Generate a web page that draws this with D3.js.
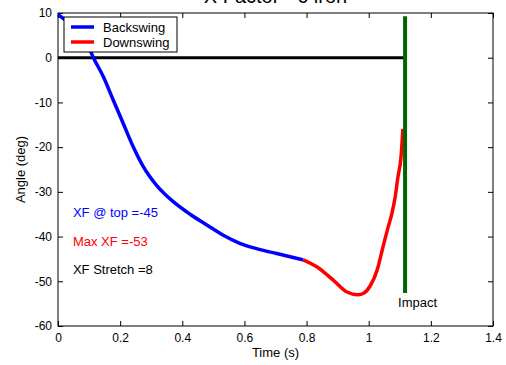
<!DOCTYPE html>
<meta charset="utf-8">
<style>

html, body {
  margin: 0;
  padding: 0;
  width: 506px;
  height: 365px;
  background: #fff;
  overflow: hidden;
}

svg {
  font-family: "Liberation Sans", Arial, Helvetica, sans-serif;
}

.tick line {
  stroke: #000;
}

.tick text {
  font-size: 12px;
  fill: #000;
}

</style>
<svg class="chart"></svg>
<script src="https://d3js.org/d3.v7.min.js"></script>
<script>

var width = 506;
var height = 365;
var margin = {left: 58, right: 13, top: 13, bottom: 39};

var backTime  = [0, 0.02, 0.05, 0.08, 0.103, 0.114, 0.146, 0.178, 0.210, 0.242, 0.275, 0.318, 0.371, 0.425, 0.479, 0.532, 0.585, 0.639, 0.704, 0.789];
var backAngle = [9.6, 8.6, 6.5, 3.8, 1.7, 0, -4.25, -9.5, -14.7, -19.9, -24.4, -28.6, -32.2, -35.0, -37.4, -39.7, -41.5, -42.7, -43.8, -45.2];

var downTime  = [0.789, 0.834, 0.885, 0.93, 0.965, 0.985, 1.005, 1.027, 1.046, 1.062, 1.075, 1.085, 1.094, 1.104, 1.110];
var downAngle = [-45.2, -46.8, -49.7, -52.4, -53, -52.6, -51, -47.5, -42.3, -38, -34.7, -31.2, -26.7, -22.2, -15.9];

var impactTime = 1.117;
var impactRange = [-52.6, 9.3];

var xTicks = [0, 0.2, 0.4, 0.6, 0.8, 1, 1.2, 1.4];
var yTicks = [10, 0, -10, -20, -30, -40, -50, -60];

var legendNames = ['Backswing', 'Downswing'];
var legendColors = ['#0000ff', '#ff0000'];

var notes = [
  {text: 'XF @ top =-45', color: '#0000ff', t: 0.048, a: -35.7},
  {text: 'Max XF =-53', color: '#ff0000', t: 0.048, a: -42},
  {text: 'XF Stretch =8', color: '#000000', t: 0.048, a: -48.3}
];

var plotW = width - margin.left - margin.right;
var plotH = height - margin.top - margin.bottom;

var svg = d3.select('svg.chart')
  .attr('width', width)
  .attr('height', height);

var g = svg.append('g')
  .attr('transform', 'translate(' + margin.left + ',' + margin.top + ')');

var x = d3.scaleLinear().domain([0, 1.4]).range([0, plotW]);
var y = d3.scaleLinear().domain([-60, 10]).range([plotH, 0]);

// plain hyphen minus, like the original
var fmt = function (d) { return String(d); };

// axes, ticks pointing inward like matlab
g.append('g')
    .attr('transform', 'translate(0,' + plotH + ')')
    .call(d3.axisBottom(x).tickValues(xTicks).tickSize(-5).tickPadding(7).tickFormat(fmt))
    .call(function (s) { s.select('.domain').remove(); });

g.append('g')
    .call(d3.axisTop(x).tickValues(xTicks).tickSize(-5).tickFormat(''))
    .call(function (s) { s.select('.domain').remove(); });

g.append('g')
    .call(d3.axisLeft(y).tickValues(yTicks).tickSize(-5).tickPadding(6).tickFormat(fmt))
    .call(function (s) { s.select('.domain').remove(); });

g.append('g')
    .attr('transform', 'translate(' + plotW + ',0)')
    .call(d3.axisRight(y).tickValues(yTicks).tickSize(-5).tickFormat(''))
    .call(function (s) { s.select('.domain').remove(); });

g.append('rect')
    .attr('width', plotW)
    .attr('height', plotH)
    .attr('fill', 'none')
    .attr('stroke', '#000')
    .attr('stroke-width', 1);

// zero line
g.append('line')
    .attr('x1', x(0))
    .attr('x2', x(impactTime))
    .attr('y1', y(0))
    .attr('y2', y(0))
    .attr('stroke', '#000')
    .attr('stroke-width', 3);

var line = d3.line()
    .x(function (d) { return x(d[0]); })
    .y(function (d) { return y(d[1]); })
    .curve(d3.curveMonotoneX);

g.append('path')
    .attr('fill', 'none')
    .attr('stroke', legendColors[0])
    .attr('stroke-width', 3.5)
    .attr('stroke-linejoin', 'round')
    .attr('d', line(d3.zip(backTime, backAngle)));

g.append('path')
    .attr('fill', 'none')
    .attr('stroke', legendColors[1])
    .attr('stroke-width', 3.5)
    .attr('stroke-linejoin', 'round')
    .attr('d', line(d3.zip(downTime, downAngle)));

// impact marker
g.append('line')
    .attr('x1', x(impactTime))
    .attr('x2', x(impactTime))
    .attr('y1', y(impactRange[0]))
    .attr('y2', y(impactRange[1]))
    .attr('stroke', '#006400')
    .attr('stroke-width', 4);

g.append('text')
    .attr('x', x(impactTime) - 7)
    .attr('y', y(impactRange[0]) + 14)
    .style('font-size', '13px')
    .attr('fill', '#000')
    .text('Impact');

// notes
g.selectAll('text.note')
    .data(notes)
  .enter().append('text')
    .attr('class', 'note')
    .attr('x', function (d) { return x(d.t); })
    .attr('y', function (d) { return y(d.a); })
    .attr('fill', function (d) { return d.color; })
    .style('font-size', '13px')
    .text(function (d) { return d.text; });

// legend
var legend = g.append('g').attr('transform', 'translate(6,4)');

legend.append('rect')
    .attr('width', 113)
    .attr('height', 35)
    .attr('fill', '#fff')
    .attr('stroke', '#000');

var item = legend.selectAll('g.item')
    .data(legendNames)
  .enter().append('g')
    .attr('class', 'item')
    .attr('transform', function (d, i) { return 'translate(0,' + (10 + i * 15) + ')'; });

item.append('line')
    .attr('x1', 7)
    .attr('x2', 30)
    .attr('stroke', function (d, i) { return legendColors[i]; })
    .attr('stroke-width', 3.5);

item.append('text')
    .attr('x', 39)
    .attr('y', 4.5)
    .style('font-size', '13px')
    .attr('fill', '#000')
    .text(function (d) { return d; });

// titles
svg.append('text')
    .attr('x', margin.left + plotW / 2)
    .attr('y', 3)
    .attr('text-anchor', 'middle')
    .style('font-size', '20px')
    .text('X Factor - 6 iron');

svg.append('text')
    .attr('x', margin.left + plotW / 2)
    .attr('y', 357)
    .attr('text-anchor', 'middle')
    .style('font-size', '13px')
    .text('Time (s)');

svg.append('text')
    .attr('transform', 'translate(25,' + (margin.top + plotH / 2) + ') rotate(-90)')
    .attr('text-anchor', 'middle')
    .style('font-size', '13px')
    .text('Angle (deg)');

</script>
